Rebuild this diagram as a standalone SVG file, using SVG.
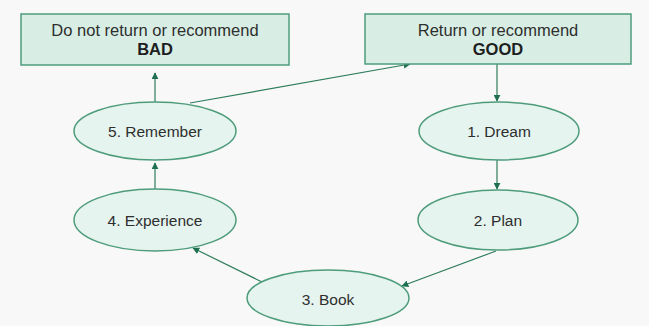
<svg xmlns="http://www.w3.org/2000/svg" width="649" height="326" viewBox="0 0 649 326">
<style>
.box{fill:#d8eee5;stroke:#4e9c7c;stroke-width:1.5}
.ell{fill:#e5f4ee;stroke:#4e9c7c;stroke-width:1.5}
.t{font-family:"Liberation Sans",Arial,sans-serif;font-size:15.5px;fill:#2e2e2e;text-anchor:middle}
.bt{font-size:16.5px}
.b{font-weight:bold;fill:#1e1e1e}
.c{stroke:#2f7d5c;stroke-width:1.2;fill:none;marker-end:url(#ah)}
</style>
<defs>
<marker id="ah" viewBox="0 0 10 10" refX="9" refY="5" markerWidth="7" markerHeight="7" markerUnits="userSpaceOnUse" orient="auto">
<path d="M0,0 L10,5 L0,10 z" fill="#1f7050"/>
</marker>
</defs>
<rect width="649" height="326" fill="#f8f8f8"/>
<g id="connectors">
<line class="c" x1="155" y1="102" x2="155" y2="73"/>
<line class="c" x1="190" y1="103" x2="410" y2="64"/>
<line class="c" x1="497" y1="64" x2="497" y2="101"/>
<line class="c" x1="497" y1="160" x2="497" y2="189"/>
<line class="c" x1="496" y1="251" x2="402" y2="286"/>
<line class="c" x1="262" y1="282" x2="193" y2="248"/>
<line class="c" x1="155" y1="189" x2="155" y2="163"/>
</g>
<g id="bad">
<rect class="box" x="21" y="14" width="268" height="51"/>
<text class="t bt" x="155" y="36">Do not return or recommend</text>
<text class="t bt b" x="155" y="55">BAD</text>
</g>
<g id="good">
<rect class="box" x="365" y="14" width="266" height="50"/>
<text class="t bt" x="498" y="36">Return or recommend</text>
<text class="t bt b" x="498" y="55">GOOD</text>
</g>
<g id="dream">
<ellipse class="ell" cx="499" cy="131" rx="80" ry="29"/>
<text class="t" x="499" y="137">1. Dream</text>
</g>
<g id="plan">
<ellipse class="ell" cx="498" cy="220" rx="80" ry="30"/>
<text class="t" x="498" y="226">2. Plan</text>
</g>
<g id="book">
<ellipse class="ell" cx="328" cy="298" rx="81" ry="28"/>
<text class="t" x="328" y="305">3. Book</text>
</g>
<g id="experience">
<ellipse class="ell" cx="155" cy="220" rx="81" ry="31"/>
<text class="t" x="155" y="226">4. Experience</text>
</g>
<g id="remember">
<ellipse class="ell" cx="155" cy="131" rx="81" ry="29"/>
<text class="t" x="155" y="137">5. Remember</text>
</g>
</svg>
